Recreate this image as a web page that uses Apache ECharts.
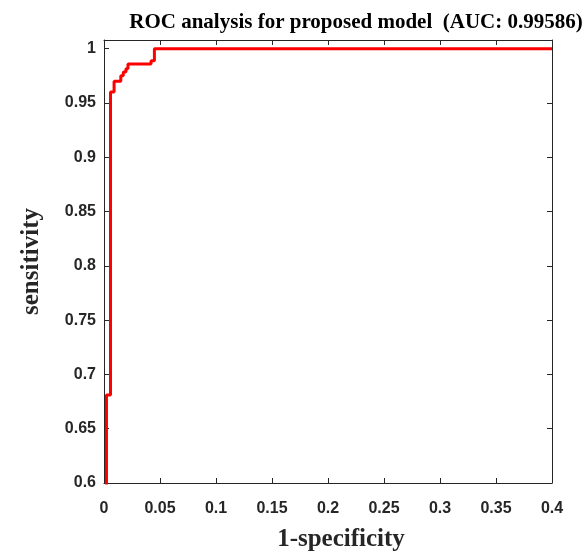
<!DOCTYPE html>
<html>
<head>
<meta charset="utf-8">
<script src="https://cdn.jsdelivr.net/npm/echarts@6/dist/echarts.min.js"></script>
<style>html,body{margin:0;padding:0;background:#fff}#c{width:582px;height:552px}</style>
</head>
<body>
<div id="c"></div>
<script>
// ROC curve corner points (step 'end': horizontal then vertical)
var fpr = [0.0022, 0.0022, 0.0058, 0.009, 0.015, 0.0172, 0.0196, 0.0214, 0.042, 0.045, 0.4];
var tpr = [0, 0.681, 0.960, 0.970, 0.975, 0.9785, 0.9815, 0.986, 0.989, 1.0, 1.0];
var xTicks = [0, 0.05, 0.1, 0.15, 0.2, 0.25, 0.3, 0.35, 0.4];
var yTicks = [0.6, 0.65, 0.7, 0.75, 0.8, 0.85, 0.9, 0.95, 1];
var titleText = 'ROC analysis for proposed model  (AUC: 0.99586)';
var xName = '1-specificity';
var yName = 'sensitivity';

var chart = echarts.init(document.getElementById('c'), null, {renderer: 'canvas'});
var axisCol = '#262626';
var labelFont = {color: axisCol, fontFamily: 'Liberation Sans, Arial, sans-serif', fontWeight: 'bold', fontSize: 16};
var nameFont = {color: axisCol, fontFamily: 'Liberation Serif, Times New Roman, serif', fontWeight: 'bold', fontSize: 25};

function fmt(v){ return String(Math.round(v*1000)/1000); }

var data = fpr.map(function(x, i){ return [x, tpr[i]]; });

chart.setOption({
  animation: false,
  backgroundColor: '#fff',
  title: {
    text: titleText,
    left: 351, top: 7, textAlign: 'center',
    textStyle: {color: '#000', fontFamily: 'Liberation Serif, Times New Roman, serif', fontWeight: 'bold', fontSize: 21}
  },
  grid: {left: 104, right: 30, top: 40, bottom: 69, containLabel: false, outerBoundsMode: 'none'},
  xAxis: [{
    type: 'value', min: 0, max: 0.4, interval: 0.05,
    position: 'bottom',
    name: xName, nameLocation: 'middle', nameGap: 44,
    nameTextStyle: Object.assign({padding: [0, 0, 0, 26]}, nameFont),
    axisLine: {show: true, onZero: false, lineStyle: {color: axisCol, width: 1}},
    axisTick: {show: true, inside: true, length: 5, lineStyle: {color: axisCol}, customValues: xTicks},
    axisLabel: Object.assign({margin: 18, formatter: fmt, customValues: xTicks}, labelFont),
    splitLine: {show: false}
  }, {
    type: 'value', min: 0, max: 0.4, interval: 0.05,
    position: 'top',
    axisLine: {show: true, onZero: false, lineStyle: {color: axisCol, width: 1}},
    axisTick: {show: true, inside: true, length: 5, lineStyle: {color: axisCol}, customValues: xTicks},
    axisLabel: {show: false},
    splitLine: {show: false}
  }],
  yAxis: [{
    type: 'value', min: 0.6, max: 1.008,
    position: 'left',
    name: yName, nameLocation: 'middle', nameGap: 60, nameRotate: 90, nameTextStyle: nameFont,
    axisLine: {show: true, onZero: false, lineStyle: {color: axisCol, width: 1}},
    axisTick: {show: true, inside: true, length: 5, lineStyle: {color: axisCol}, customValues: yTicks},
    axisLabel: Object.assign({margin: 8, formatter: fmt, customValues: yTicks}, labelFont),
    splitLine: {show: false}
  }, {
    type: 'value', min: 0.6, max: 1.008,
    position: 'right',
    axisLine: {show: true, onZero: false, lineStyle: {color: axisCol, width: 1}},
    axisTick: {show: true, inside: true, length: 5, lineStyle: {color: axisCol}, customValues: yTicks},
    axisLabel: {show: false},
    splitLine: {show: false}
  }],
  series: [{
    type: 'line',
    xAxisIndex: 0, yAxisIndex: 0,
    data: data,
    step: 'end',
    showSymbol: false,
    symbol: 'none',
    clip: true,
    lineStyle: {color: '#ff0000', width: 3},
    z: 3
  }]
});
</script>
</body>
</html>
